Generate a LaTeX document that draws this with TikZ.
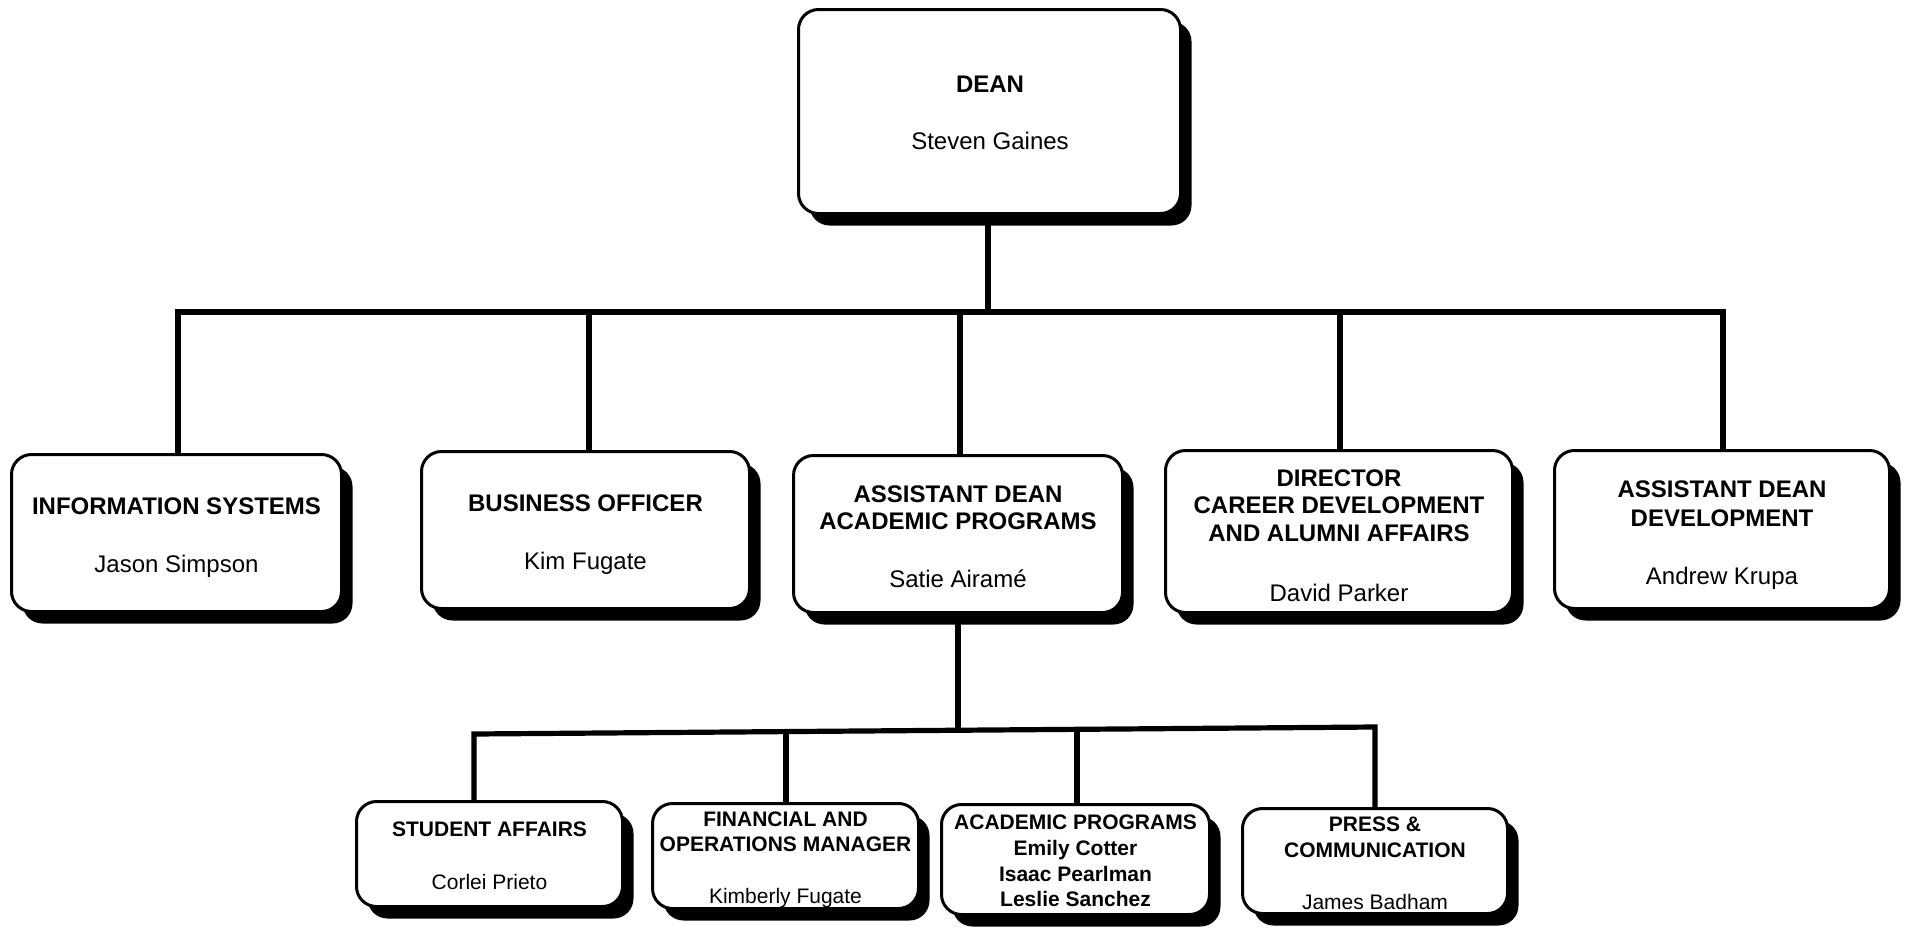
\documentclass[tikz,border=0pt]{standalone}
\usepackage{fontspec}
\setmainfont{Liberation Sans}
\usetikzlibrary{shadows}
\begin{document}
\begin{tikzpicture}[x=1pt,y=-1pt,
  box/.style={draw=black, line width=3pt, rounded corners=20pt, fill=white, inner sep=0pt,
     drop shadow={shadow xshift=11pt, shadow yshift=-12pt, fill=black, opacity=1}},
  link/.style={line width=5.2pt, line join=miter, line cap=butt},
  big/.style={anchor=base, inner sep=0pt, font=\fontsize{24}{28}\selectfont\bfseries},
  bigname/.style={anchor=base, inner sep=0pt, font=\fontsize{24}{28}\selectfont},
  small/.style={anchor=base, inner sep=0pt, font=\fontsize{21}{25}\selectfont\bfseries},
  smallname/.style={anchor=base, inner sep=0pt, font=\fontsize{21}{25}\selectfont},
]
\useasboundingbox (0,0) rectangle (1908,927);
\fill[white] (0,0) rectangle (1908,927);

% junction coordinates
\coordinate (busL) at (178,312);
\coordinate (busR) at (1723,312);
\coordinate (hubA) at (988,312);
\coordinate (j2) at (589,312);
\coordinate (j3) at (960,312);
\coordinate (j4) at (1340,312);
\coordinate (hubB) at (958,730.2);
\coordinate (cL) at (474,734);
\coordinate (cR) at (1375,727);
\coordinate (k2) at (786,731.6);
\coordinate (k3) at (1077,729.3);

% boxes
\node[box, minimum width=382pt, minimum height=204pt] (dean) at (989.5,111.5) {};
\node[box, minimum width=330pt, minimum height=157pt] (info) at (176.5,533) {};
\node[box, minimum width=328pt, minimum height=157pt] (biz) at (585.5,530) {};
\node[box, minimum width=329pt, minimum height=157pt] (asst) at (958,534) {};
\node[box, minimum width=347pt, minimum height=162pt] (dir) at (1339,531.5) {};
\node[box, minimum width=335pt, minimum height=158pt] (dev) at (1722,529.5) {};
\node[box, minimum width=266pt, minimum height=105pt] (stud) at (489.5,854) {};
\node[box, minimum width=266pt, minimum height=105pt] (fin) at (785.5,856) {};
\node[box, minimum width=268pt, minimum height=110pt] (acad) at (1075.5,859.5) {};
\node[box, minimum width=265pt, minimum height=105pt] (press) at (1375,861) {};

% connectors
\draw[link] (dean.south -| hubA) -- (hubA);
\draw[link] (info.north -| busL) -- (busL) -- (busR) -- (dev.north -| busR);
\draw[link] (j2) -- (j2 |- biz.north);
\draw[link] (j3) -- (j3 |- asst.north);
\draw[link] (j4) -- (j4 |- dir.north);
\draw[link] (asst.south -| hubB) -- (hubB);
\draw[link] (stud.north -| cL) -- (cL) -- (cR) -- (press.north -| cR);
\draw[link] (k2) -- (k2 |- fin.north);
\draw[link] (k3) -- (k3 |- acad.north);

% texts
\node[big] (deanT) at (990,92) {DEAN};
\node[bigname] (deanN) at (990,149) {Steven Gaines};

\node[big] (infoT) at (176.5,514) {INFORMATION SYSTEMS};
\node[bigname] (infoN) at (176.5,572) {Jason Simpson};

\node[big] (bizT) at (585.5,511) {BUSINESS OFFICER};
\node[bigname] (bizN) at (585.5,569) {Kim Fugate};

\node[big] (asstT1) at (958,502) {ASSISTANT DEAN};
\node[big] (asstT2) at (958,529) {ACADEMIC PROGRAMS};
\node[bigname] (asstN) at (958,587) {Satie Airamé};

\node[big] (dirT1) at (1339,486) {DIRECTOR};
\node[big] (dirT2) at (1339,513) {CAREER DEVELOPMENT};
\node[big] (dirT3) at (1339,541) {AND ALUMNI AFFAIRS};
\node[bigname] (dirN) at (1339,601) {David Parker};

\node[big] (devT1) at (1722,497) {ASSISTANT DEAN};
\node[big] (devT2) at (1722,526) {DEVELOPMENT};
\node[bigname] (devN) at (1722,584) {Andrew Krupa};

\node[small] (studT) at (489.5,836.5) {STUDENT AFFAIRS};
\node[smallname] (studN) at (489.5,889.5) {Corlei Prieto};

\node[small] (finT1) at (785.5,826.5) {FINANCIAL AND};
\node[small] (finT2) at (785.5,851.5) {OPERATIONS MANAGER};
\node[smallname] (finN) at (785.5,903) {Kimberly Fugate};

\node[small] (acadT) at (1075.5,829.5) {ACADEMIC PROGRAMS};
\node[small] (acadN1) at (1075.5,855.5) {Emily Cotter};
\node[small] (acadN2) at (1075.5,881.5) {Isaac Pearlman};
\node[small] (acadN3) at (1075.5,906.5) {Leslie Sanchez};

\node[small] (pressT1) at (1375,831.5) {PRESS \&};
\node[small] (pressT2) at (1375,857.5) {COMMUNICATION};
\node[smallname] (pressN) at (1375,909) {James Badham};
\end{tikzpicture}
\end{document}
